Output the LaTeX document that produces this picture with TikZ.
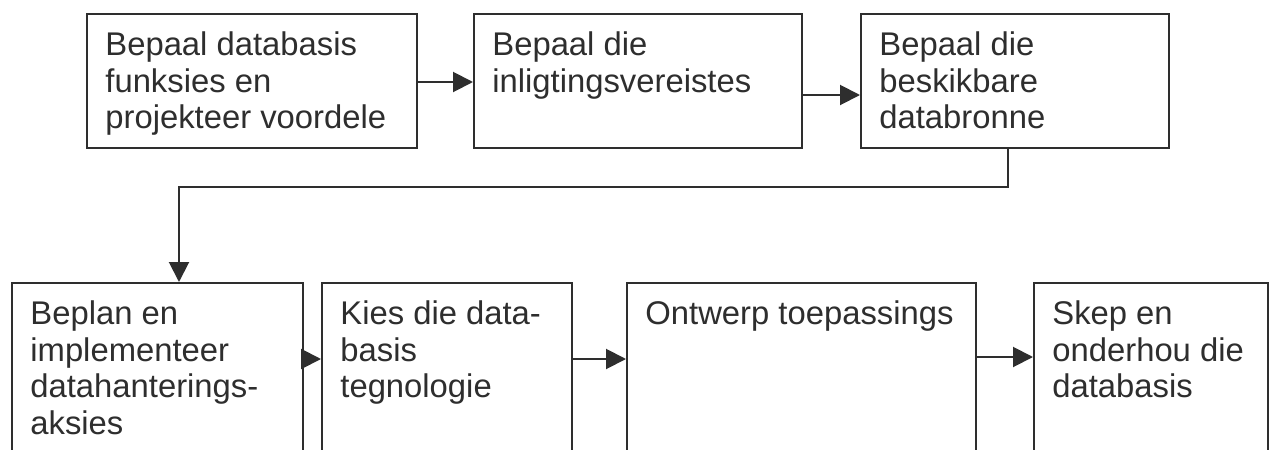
\documentclass[tikz,border=0pt]{standalone}
\usepackage{fontspec}
\setmainfont{Liberation Sans}
\usetikzlibrary{arrows.meta,fit}
\definecolor{ink}{HTML}{2E2E2E}
\begin{document}
\begin{tikzpicture}[x=0.5pt,y=-0.5pt,
  box/.style={draw=ink, line width=1pt, inner sep=0pt},
  txt/.style={anchor=north west, inner sep=0pt, align=left, text=ink, font=\fontsize{16.4}{18.3}\selectfont},
  arr/.style={draw=ink, line width=1pt, -{Triangle[length=10pt,width=10pt]}}]
\useasboundingbox[fill=white] (0,0) rectangle (1271,450);
\clip (0,0) rectangle (1271,450);
% top row
\node[box, fit={(87,14) (417,148)}] (b1) {};
\node[box, fit={(474,14) (802,148)}] (b2) {};
\node[box, fit={(861,14) (1169,148)}] (b3) {};
% bottom row (cut off at the lower edge)
\node[box, fit={(12,283) (303,470)}] (b4) {};
\node[box, fit={(322,283) (572,470)}] (b5) {};
\node[box, fit={(627,283) (976,470)}] (b6) {};
\node[box, fit={(1034,283) (1268,470)}] (b7) {};
% texts
\node[txt] (t1) at ([xshift=9.5pt,yshift=-9.3pt]b1.north west) {Bepaal databasis\\funksies en\\projekteer voordele};
\node[txt] (t2) at ([xshift=9.5pt,yshift=-9.3pt]b2.north west) {Bepaal die\\inligtingsvereistes};
\node[txt] (t3) at ([xshift=9.5pt,yshift=-9.3pt]b3.north west) {Bepaal die\\beskikbare\\databronne};
\node[txt] (t4) at ([xshift=9.5pt,yshift=-9.3pt]b4.north west) {Beplan en\\implementeer\\datahanterings-\\aksies};
\node[txt] (t5) at ([xshift=9.5pt,yshift=-9.3pt]b5.north west) {Kies die data-\\basis\\tegnologie};
\node[txt] (t6) at ([xshift=9.5pt,yshift=-9.3pt]b6.north west) {Ontwerp toepassings};
\node[txt] (t7) at ([xshift=9.5pt,yshift=-9.3pt]b7.north west) {Skep en\\onderhou die\\databasis};
% connectors
\draw[arr] ([yshift=-34.5pt]b1.north east) -- ([yshift=-34.5pt]b2.north west);
\draw[arr] ([yshift=-41pt]b2.north east) -- ([yshift=-41pt]b3.north west);
\coordinate (turn) at (0,187);
\coordinate (s3) at ([xshift=-3.5pt]b3.south);
\coordinate (n4) at ([xshift=10.75pt]b4.north);
\draw[arr] (s3) -- (s3 |- turn) -| (n4);
\draw[arr] ([yshift=-38.5pt]b4.north east) -- ([yshift=-38.5pt]b5.north west);
\draw[arr] ([yshift=-38.5pt]b5.north east) -- ([yshift=-38.5pt]b6.north west);
\draw[arr] ([yshift=-37.5pt]b6.north east) -- ([yshift=-37.5pt]b7.north west);
\end{tikzpicture}
\end{document}
